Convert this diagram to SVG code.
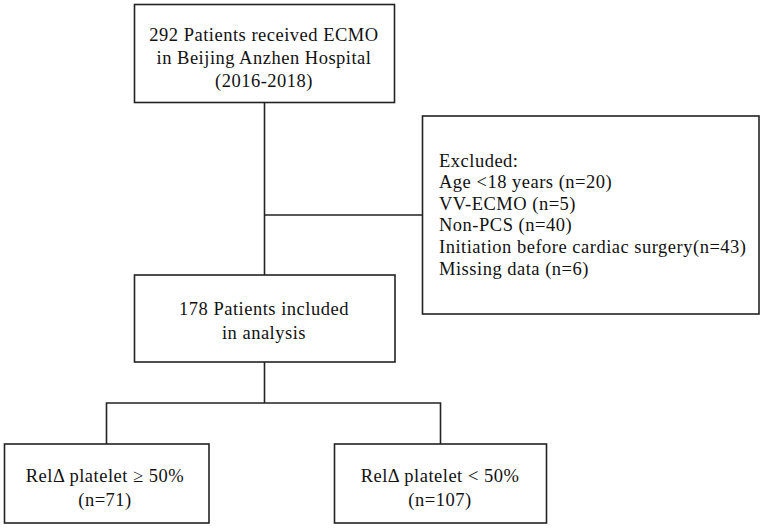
<svg xmlns="http://www.w3.org/2000/svg" width="765" height="528" viewBox="0 0 765 528">
<style>
.box{fill:#fff;stroke:#222;stroke-width:1.6}
.ln{fill:none;stroke:#222;stroke-width:1.6}
text{font-family:"Liberation Serif","Times New Roman",serif;font-size:18.5px;letter-spacing:0.5px;fill:#111}
.c{text-anchor:middle}
</style>
<rect width="765" height="528" fill="#fff"/>
<g id="connectors">
<path class="ln" d="M264.5,103 V275"/>
<path class="ln" d="M264.5,215 H422.5"/>
<path class="ln" d="M264.5,362 V403 M106.5,444 V403 H440.5 V444"/>
</g>
<g id="n1">
<rect class="box" x="134.5" y="4.5" width="260" height="98"/>
<text class="c" x="264" y="40.5">292 Patients received ECMO</text>
<text class="c" x="264" y="63.5">in Beijing Anzhen Hospital</text>
<text class="c" x="264" y="86.5">(2016-2018)</text>
</g>
<g id="n2">
<rect class="box" x="422.5" y="116" width="336.5" height="198"/>
<text x="439" y="166.5">Excluded:</text>
<text x="439" y="188">Age &lt;18 years (n=20)</text>
<text x="439" y="209.7">VV-ECMO (n=5)</text>
<text x="439" y="231.4">Non-PCS (n=40)</text>
<text x="439" y="253">Initiation before cardiac surgery(n=43)</text>
<text x="439" y="274.7">Missing data (n=6)</text>
</g>
<g id="n3">
<rect class="box" x="134.5" y="275" width="260.5" height="87"/>
<text class="c" x="264" y="315">178 Patients included</text>
<text class="c" x="264" y="339">in analysis</text>
</g>
<g id="n4">
<rect class="box" x="4.5" y="444" width="204.5" height="79"/>
<text class="c" x="105" y="482">RelΔ platelet ≥ 50%</text>
<text class="c" x="105" y="505.5">(n=71)</text>
</g>
<g id="n5">
<rect class="box" x="334.5" y="444" width="212" height="79"/>
<text class="c" x="440" y="482">RelΔ platelet &lt; 50%</text>
<text class="c" x="440" y="505.5">(n=107)</text>
</g>
</svg>
